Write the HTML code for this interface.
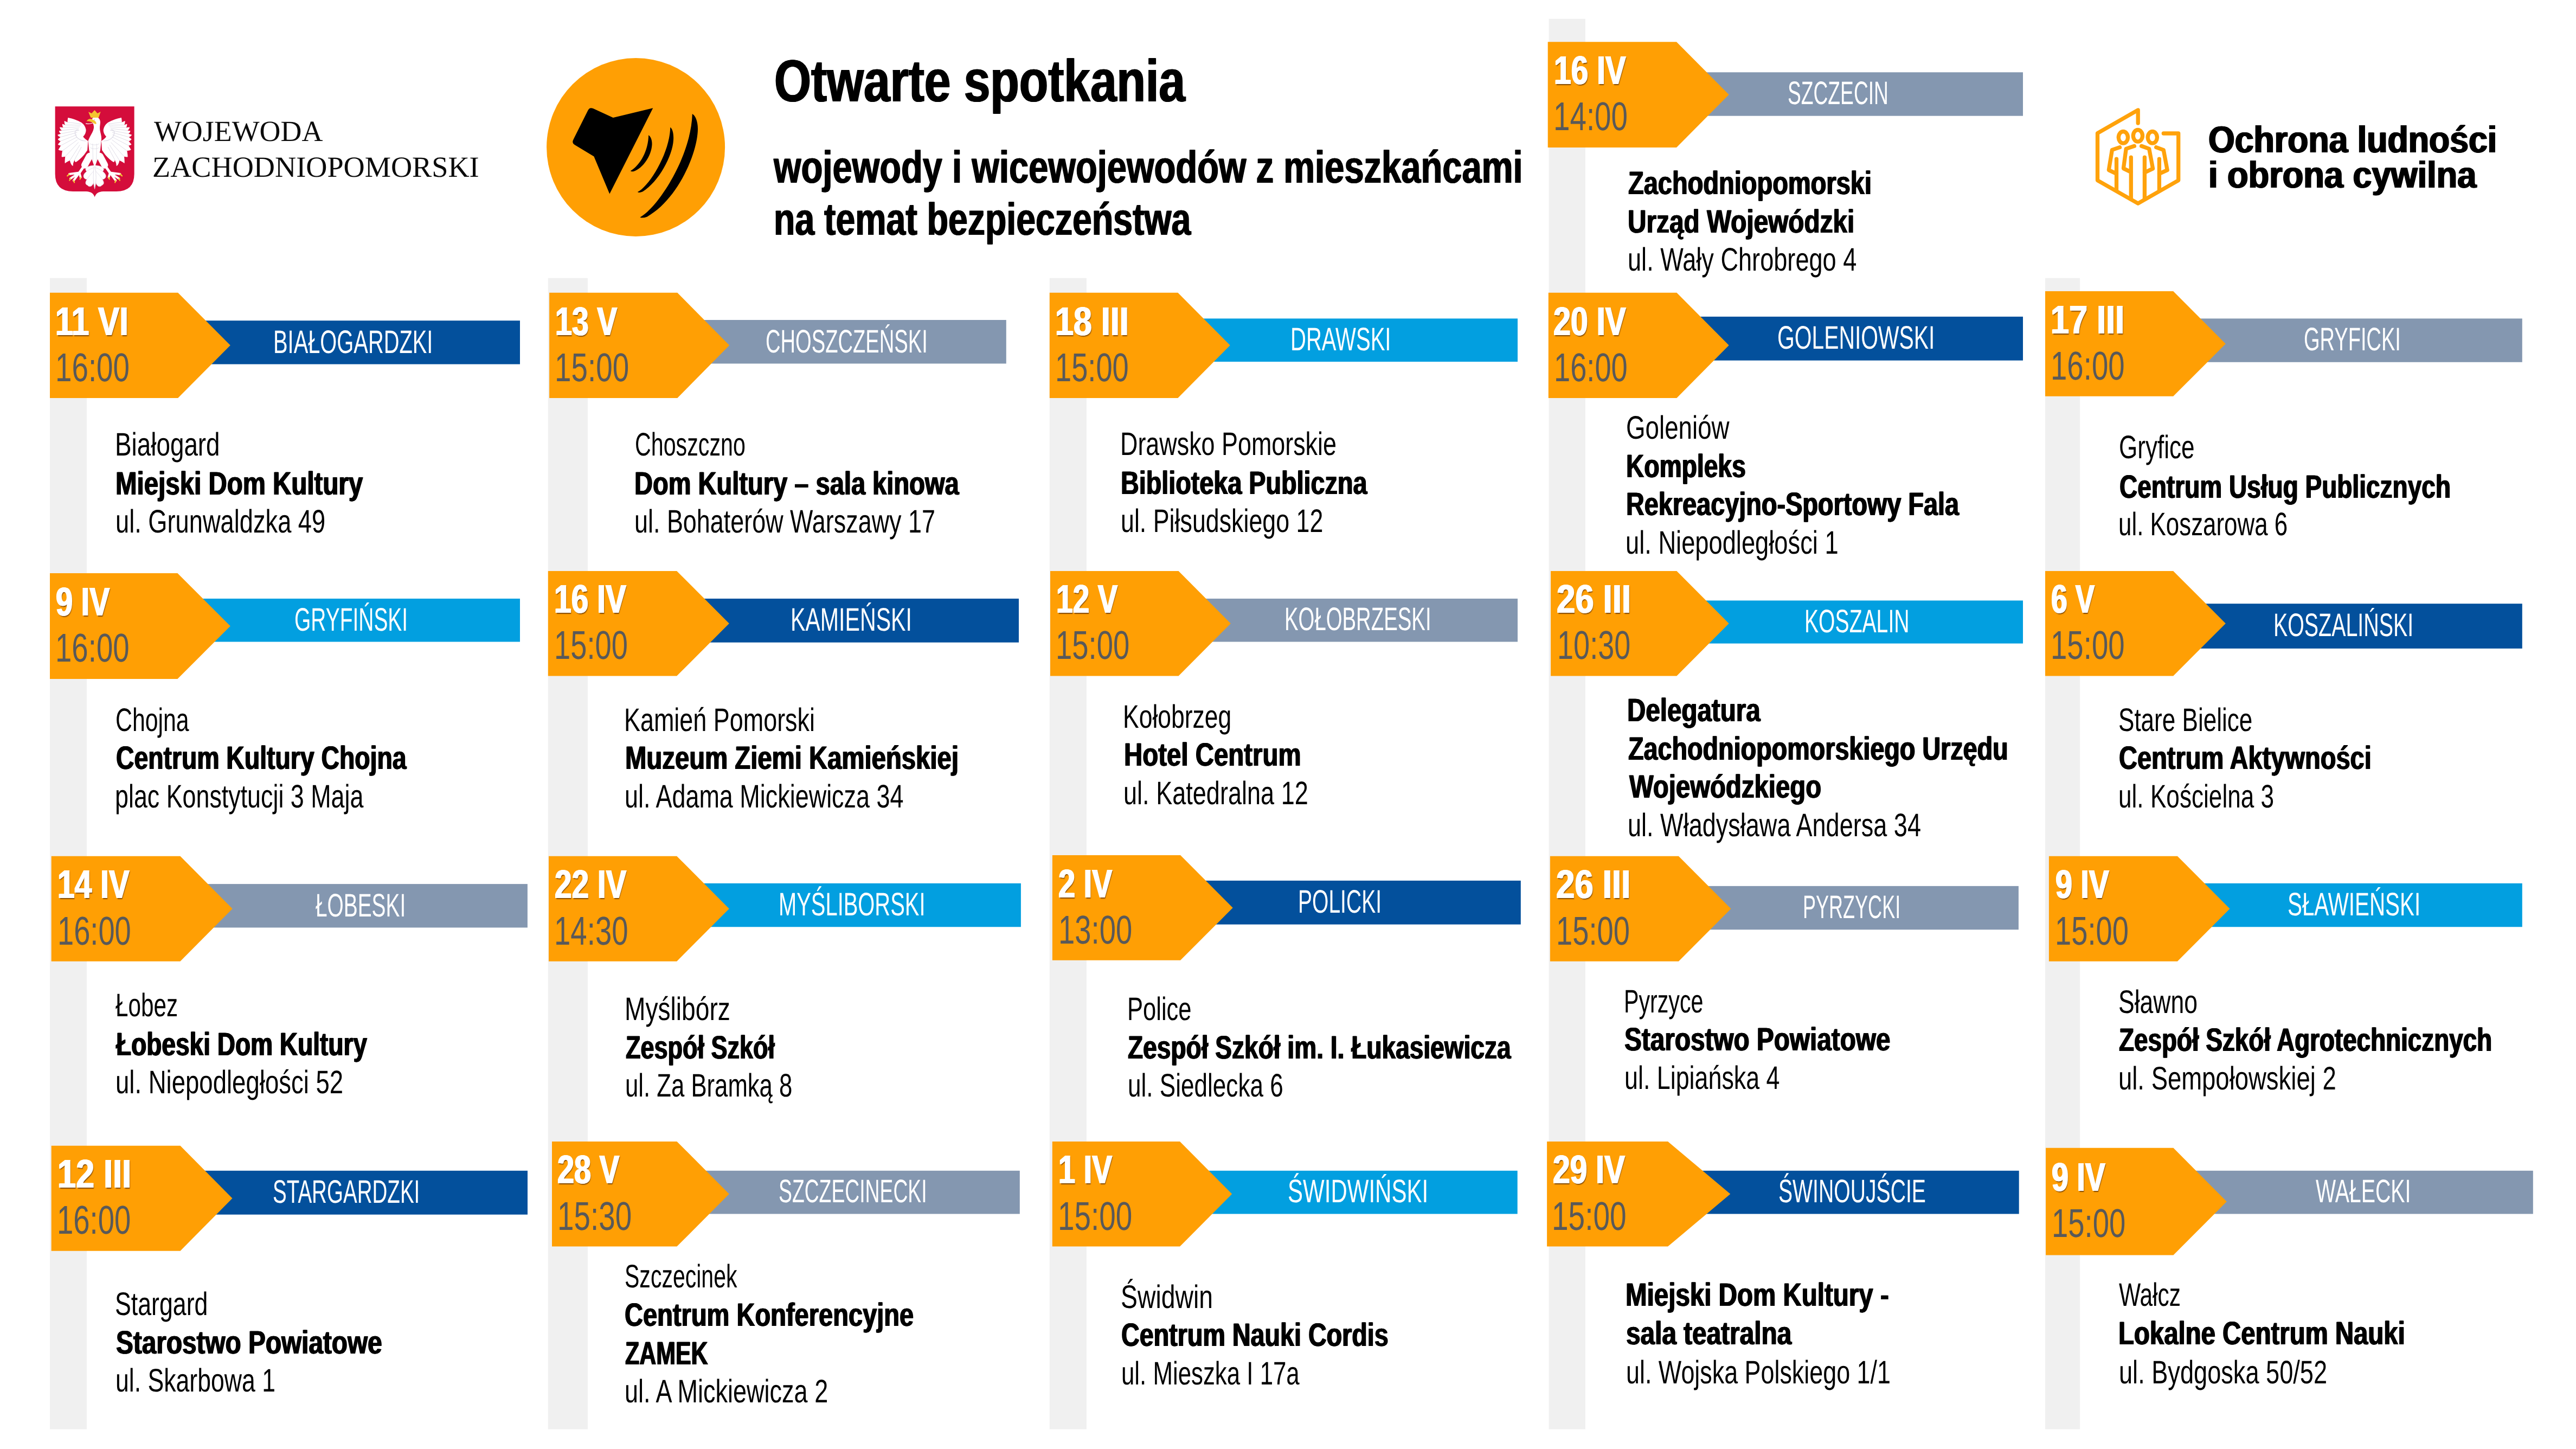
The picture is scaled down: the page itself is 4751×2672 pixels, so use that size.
<!DOCTYPE html>
<html lang="pl"><head><meta charset="utf-8"><title>Otwarte spotkania</title>
<style>
html,body{margin:0;padding:0;background:#fff}
#pg{position:relative;width:4751px;height:2672px;overflow:hidden;background:#fff}
#pg svg{position:absolute;left:0;top:0}
#tx{position:absolute;left:0;top:0;width:4751px;height:2672px;will-change:transform}
.t{position:absolute;white-space:nowrap;transform-origin:0 0;margin:0;padding:0;text-rendering:geometricPrecision}
.b{font-family:"Liberation Sans",sans-serif;font-weight:400;font-size:60px;line-height:60px;color:#000}
.bb{font-family:"Liberation Sans",sans-serif;font-weight:700;font-size:60px;line-height:60px;color:#000}
.lb{font-family:"Liberation Sans",sans-serif;font-weight:400;font-size:60px;line-height:60px;color:#fff}
.dt{font-family:"Liberation Sans",sans-serif;font-weight:700;font-size:74px;line-height:74px;color:#fff}
.tm{font-family:"Liberation Sans",sans-serif;font-weight:400;font-size:74px;line-height:74px;color:#595959}
.h1{font-family:"Liberation Sans",sans-serif;font-weight:700;font-size:110px;line-height:110px;color:#000}
.h2{font-family:"Liberation Sans",sans-serif;font-weight:700;font-size:84px;line-height:84px;color:#000}
.sf{font-family:"Liberation Serif",serif;font-weight:400;font-size:54px;line-height:54px;color:#0b0b0b}
.oc{font-family:"Liberation Sans",sans-serif;font-weight:700;font-size:69px;line-height:69px;color:#000}
</style></head>
<body><div id="pg">
<svg width="4751" height="2672" viewBox="0 0 4751 2672">
<rect x="92" y="512.8" width="68.0" height="2122.8" fill="#f0f0f0"/>
<rect x="1010.8" y="512.8" width="73.1" height="2122.8" fill="#f0f0f0"/>
<rect x="1935.8" y="512.8" width="68.1" height="2122.8" fill="#f0f0f0"/>
<rect x="2856.6" y="34.7" width="67.3" height="2600.9" fill="#f0f0f0"/>
<rect x="3772" y="512.8" width="64.1" height="2122.8" fill="#f0f0f0"/>
<rect x="3092" y="133.3" width="639.0" height="80.4" fill="#8497b0"/>
<polygon points="2854.7,77.2 3092,77.2 3188.7,174.6 3092,272 2854.7,272" fill="#ff9f04"/>
<rect x="328.2" y="591.2" width="630.8" height="80.4" fill="#03509c"/>
<polygon points="92,539.8 328.2,539.8 424.8,636.8 328.2,733.9 92,733.9" fill="#ff9f04"/>
<rect x="1249.3" y="590" width="606.5" height="80.5" fill="#8497b0"/>
<polygon points="1013.1,539.8 1249.3,539.8 1345.2,636.8 1249.3,733.9 1013.1,733.9" fill="#ff9f04"/>
<rect x="2172.4" y="587.4" width="626.6" height="79.6" fill="#029fe0"/>
<polygon points="1935.8,539.8 2172.4,539.8 2268.7,636.8 2172.4,733.9 1935.8,733.9" fill="#ff9f04"/>
<rect x="3092.4" y="583.9" width="638.6" height="80.8" fill="#03509c"/>
<polygon points="2855.8,539.8 3092.4,539.8 3188.7,636.8 3092.4,733.9 2855.8,733.9" fill="#ff9f04"/>
<rect x="4008.2" y="587.4" width="643.6" height="80.4" fill="#8497b0"/>
<polygon points="3772,537.1 4008.2,537.1 4104.8,634.0 4008.2,730.8 3772,730.8" fill="#ff9f04"/>
<rect x="327.4" y="1103.9" width="631.6" height="79.6" fill="#029fe0"/>
<polygon points="92,1057.1 327.4,1057.1 424.8,1154.5 327.4,1251.9 92,1251.9" fill="#ff9f04"/>
<rect x="1248.2" y="1103.9" width="630.8" height="80.8" fill="#03509c"/>
<polygon points="1010.8,1052.9 1248.2,1052.9 1344.8,1149.7 1248.2,1246.5 1010.8,1246.5" fill="#ff9f04"/>
<rect x="2173.6" y="1103.9" width="625.4" height="79.6" fill="#8497b0"/>
<polygon points="1937,1052.9 2173.6,1052.9 2269.8,1149.7 2173.6,1246.5 1937,1246.5" fill="#ff9f04"/>
<rect x="3092.4" y="1107.4" width="638.6" height="79.2" fill="#029fe0"/>
<polygon points="2860.1,1052.9 3092.4,1052.9 3188.7,1149.7 3092.4,1246.5 2860.1,1246.5" fill="#ff9f04"/>
<rect x="4008.2" y="1113.2" width="643.6" height="82.7" fill="#03509c"/>
<polygon points="3772,1052.9 4008.2,1052.9 4104.8,1149.7 4008.2,1246.5 3772,1246.5" fill="#ff9f04"/>
<rect x="332.4" y="1630.1" width="640.5" height="80.4" fill="#8497b0"/>
<polygon points="94.7,1578.7 332.4,1578.7 428.7,1675.7 332.4,1772.7 94.7,1772.7" fill="#ff9f04"/>
<rect x="1248.2" y="1628.9" width="634.7" height="80.4" fill="#029fe0"/>
<polygon points="1012,1578.7 1248.2,1578.7 1344.8,1675.7 1248.2,1772.7 1012,1772.7" fill="#ff9f04"/>
<rect x="2177.1" y="1623.9" width="627.7" height="80.8" fill="#03509c"/>
<polygon points="1940.9,1577.1 2177.1,1577.1 2273.7,1673.9 2177.1,1770.8 1940.9,1770.8" fill="#ff9f04"/>
<rect x="3095.9" y="1633.9" width="627.0" height="80.4" fill="#8497b0"/>
<polygon points="2858.9,1578.7 3095.9,1578.7 3192.5,1675.7 3095.9,1772.7 2858.9,1772.7" fill="#ff9f04"/>
<rect x="4015.9" y="1628.9" width="635.9" height="80.4" fill="#029fe0"/>
<polygon points="3778.9,1578.7 4015.9,1578.7 4112.5,1675.7 4015.9,1772.7 3778.9,1772.7" fill="#ff9f04"/>
<rect x="332.5" y="2158.8" width="640.5" height="80.9" fill="#03509c"/>
<polygon points="94.7,2112.7 332.5,2112.7 428.5,2209.7 332.5,2306.7 94.7,2306.7" fill="#ff9f04"/>
<rect x="1248.4" y="2158.8" width="632.4" height="79.7" fill="#8497b0"/>
<polygon points="1018,2104.9 1248.4,2104.9 1344.8,2201.8 1248.4,2298.6 1018,2298.6" fill="#ff9f04"/>
<rect x="2176.1" y="2158.8" width="622.6" height="79.7" fill="#029fe0"/>
<polygon points="1940.8,2104.9 2176.1,2104.9 2272.2,2201.8 2176.1,2298.6 1940.8,2298.6" fill="#ff9f04"/>
<rect x="3076.1" y="2158.8" width="647.6" height="79.7" fill="#03509c"/>
<polygon points="2853.1,2104.9 3076.1,2104.9 3191.3,2201.8 3076.1,2298.6 2853.1,2298.6" fill="#ff9f04"/>
<rect x="4008.4" y="2158.8" width="663.4" height="79.7" fill="#8497b0"/>
<polygon points="3773.1,2116.8 4008.4,2116.8 4106.8,2215.7 4008.4,2314.5 3773.1,2314.5" fill="#ff9f04"/>
<circle cx="1172.6" cy="271.5" r="164.5" fill="#ff9f04"/>
<path d="M1084.4,203.5 Q1087.5,197.2 1093.9,200.1 L1130.8,216.9 L1204.3,199.3 L1124.3,357.5 L1095.4,288.5 L1060.2,267.2 Q1054.2,263.6 1057.4,257.4 Z" fill="#000"/>
<path d="M1276.8,210.1 C1282.6,213.0 1287.4,224.6 1287.0,239.1 C1286.2,281.2 1251.4,366.7 1193.5,399.7 Q1184.8,402.9 1180.4,400.7 C1212.3,384.1 1274.6,289.9 1276.8,210.1 Z" fill="#000"/>
<path d="M1236.2,234.8 C1240.1,237.0 1242.8,246.4 1242.0,258.0 C1240.6,287.0 1215.2,334.8 1185.5,353.3 Q1179.0,356.2 1175.8,354.1 C1197.8,343.5 1235.5,281.2 1236.2,234.8 Z" fill="#000"/>
<path d="M1196.1,249.3 C1199.6,251.0 1202.9,258.0 1202.5,266.7 C1201.4,287.0 1186.2,310.1 1168.8,315.9 Q1164.5,317.1 1162.8,315.2 C1177.5,307.2 1195.7,281.2 1196.1,249.3 Z" fill="#000"/>
<g fill="none" stroke="#ffa20b" stroke-width="7.3" stroke-linecap="round" stroke-linejoin="round"><path d="M3943.2,227.1 V202.8 L3868.5,245.6 V332.6 L3943.2,375.1 L4017.7,332.6 V246 H3990.3"/><ellipse cx="3915.9" cy="253.3" rx="8.6" ry="10.8"/><ellipse cx="3942.9" cy="250.3" rx="8.6" ry="10.8"/><ellipse cx="3969.8" cy="253.3" rx="8.6" ry="10.8"/><path d="M3936.4,269.3 L3921.2,274.4 L3916.4,310.6 L3930.3,317.4 M3930.3,290.1 V366.8 M3955.4,290.1 V366.8 M3949.6,269.3 L3963.7,274.4 L3970.6,310.9 L3955.4,318.2"/><path d="M3909.5,271.6 L3895.4,276.4 L3889.3,313.6 L3903.5,320.4 M3903.5,293.1 V350.8"/><path d="M3976.7,271.6 L3990.3,276.7 L3997.2,313.6 L3982.4,320.4 M3982.4,293.1 V350.8"/></g>
<g transform="translate(98,192) scale(0.12145)">
<path d="M30,35 H1232 V1060 Q1232,1325 960,1325 H760 Q650,1330 631,1415 Q612,1330 502,1325 H302 Q30,1325 30,1060 Z" fill="#d40d3b"/>
<g>
<path d="M225,205 Q217,247 219,276 Q186,259 170,255 Q167,292 183,316 Q154,303 140,300 Q137,334 154,356 Q119,351 100,350 Q102,381 133,400 Q103,404 90,405 Q91,433 119,449 Q86,462 68,465 Q73,489 112,501 Q84,524 72,530 Q76,552 113,562 Q85,600 72,610 Q77,626 116,629 Q89,678 78,690 Q88,706 140,709 Q127,782 130,800 Q137,805 183,797 Q174,879 180,900 Q193,884 254,856 Q269,923 300,940 Q300,900 324,848 Q326,874 345,880 Q400,850 470,770 L520,700 L530,560 Q470,520 455,495 Q505,440 498,385 Q485,320 430,280 Q340,225 225,205 Z" fill="#ffffff"/>
<path d="M219,276 L430,300 M183,316 L420,320 M154,356 L405,345 M133,400 L390,370 M119,449 L375,400 M112,501 L365,430 M113,562 L360,465 M116,629 L362,500 M140,709 L370,540 M183,797 L385,580 M254,856 L405,620 M324,848 L430,650 " fill="none" stroke="#d9d6e2" stroke-width="7"/>
<path d="M500,560 C420,560 350,520 335,450 C325,400 360,380 395,400" fill="none" stroke="#d9d6e2" stroke-width="9"/>
</g>
<g transform="translate(1262,0) scale(-1,1)">
<path d="M225,205 Q217,247 219,276 Q186,259 170,255 Q167,292 183,316 Q154,303 140,300 Q137,334 154,356 Q119,351 100,350 Q102,381 133,400 Q103,404 90,405 Q91,433 119,449 Q86,462 68,465 Q73,489 112,501 Q84,524 72,530 Q76,552 113,562 Q85,600 72,610 Q77,626 116,629 Q89,678 78,690 Q88,706 140,709 Q127,782 130,800 Q137,805 183,797 Q174,879 180,900 Q193,884 254,856 Q269,923 300,940 Q300,900 324,848 Q326,874 345,880 Q400,850 470,770 L520,700 L530,560 Q470,520 455,495 Q505,440 498,385 Q485,320 430,280 Q340,225 225,205 Z" fill="#ffffff"/>
<path d="M219,276 L430,300 M183,316 L420,320 M154,356 L405,345 M133,400 L390,370 M119,449 L375,400 M112,501 L365,430 M113,562 L360,465 M116,629 L362,500 M140,709 L370,540 M183,797 L385,580 M254,856 L405,620 M324,848 L430,650 " fill="none" stroke="#d9d6e2" stroke-width="7"/>
<path d="M500,560 C420,560 350,520 335,450 C325,400 360,380 395,400" fill="none" stroke="#d9d6e2" stroke-width="9"/>
</g>
<g fill="#ffffff" stroke="#d9d6e2" stroke-width="6" stroke-linejoin="round">
<path d="M631,930 C702,930 792,960 762,1010 C722,1060 652,1020 631,1020 Z"/>
<path d="M631,960 C722,990 832,1060 792,1120 C752,1170 682,1130 631,1050 Z"/>
<path d="M631,1000 C702,1080 822,1200 742,1230 C702,1280 632,1240 631,1090 Z"/>
<path d="M631,930 C560,930 470,960 500,1010 C540,1060 610,1020 631,1020 Z"/>
<path d="M631,960 C540,990 430,1060 470,1120 C510,1170 580,1130 631,1050 Z"/>
<path d="M631,1000 C560,1080 440,1200 520,1230 C560,1280 630,1240 631,1090 Z"/>
<path d="M631,900 Q589,1134 631,1290 Q673,1134 631,900 Z"/>
</g>
<g fill="none" stroke="#ffffff" stroke-linecap="round" stroke-linejoin="round">
<g><path d="M552,790 L480,925" stroke-width="104"/><path d="M462,950 L398,1042" stroke-width="40"/><path d="M398,1042 L245,1062 M398,1042 L262,1132 M398,1042 L312,1160 M398,1042 L418,1112" stroke-width="32"/><path d="M245,1062 L216,1090 M262,1132 L250,1158 M312,1160 L322,1190 M418,1112 L408,1140" stroke="#f4cf2a" stroke-width="18"/></g>
<g transform="translate(1262,0) scale(-1,1)"><path d="M552,790 L480,925" stroke-width="104"/><path d="M462,950 L398,1042" stroke-width="40"/><path d="M398,1042 L245,1062 M398,1042 L262,1132 M398,1042 L312,1160 M398,1042 L418,1112" stroke-width="32"/><path d="M245,1062 L216,1090 M262,1132 L250,1158 M312,1160 L322,1190 M418,1112 L408,1140" stroke="#f4cf2a" stroke-width="18"/></g>
</g>
<path d="M640,195 C690,195 722,230 715,290 C712,330 705,350 712,400 C720,450 742,500 730,560 L716,700 L682,820 L631,960 L580,820 L546,700 L532,560 C545,510 590,450 608,400 C620,360 622,340 610,305 L585,245 C590,215 610,195 640,195 Z" fill="#ffffff"/>
<path d="M600,600 L606,880 M662,600 L656,880 M560,600 C590,625 672,625 702,600 M565,660 C595,685 667,685 697,660" stroke="#d9d6e2" stroke-width="6" fill="none"/>
<path d="M592,230 C560,216 522,226 508,262 C540,255 585,270 625,294 C640,302 654,306 657,295 C654,262 622,243 592,230 Z" fill="#f4c430"/>
<path d="M498,296 C530,303 565,298 604,286" stroke="#fff" stroke-width="10" fill="none" stroke-linecap="round"/>
<circle cx="628" cy="238" r="7" fill="#b9b4c6"/>
<path d="M572,205 L535,118 L585,140 L630,90 L672,140 L722,115 L690,205 Z" fill="#f4c430"/>
</g>
</svg>
<div id="tx">
<div class="t dt" style="left:2866.3px;top:93.3px;transform:scaleX(0.7690);text-shadow:1.17px 0 0 #fff,-1.17px 0 0 #fff,1.6px 1.6px 1.6px rgba(90,45,0,.75);">16 IV</div>
<div class="t tm" style="left:2864.8px;top:178.3px;transform:scaleX(0.7399);">14:00</div>
<div class="t lb" style="left:3296.6px;top:142.0px;transform:scaleX(0.6197);">SZCZECIN</div>
<div class="t bb" style="left:3003.2px;top:308.2px;transform:scaleX(0.7830);text-shadow:1.02px 0 0 #000,-1.02px 0 0 #000;">Zachodniopomorski</div>
<div class="t bb" style="left:3001.7px;top:379.0px;transform:scaleX(0.7959);text-shadow:1.01px 0 0 #000,-1.01px 0 0 #000;">Urząd Wojewódzki</div>
<div class="t b" style="left:3001.5px;top:449.3px;transform:scaleX(0.7524);">ul. Wały Chrobrego 4</div>
<div class="t dt" style="left:102.2px;top:555.9px;transform:scaleX(0.7989);text-shadow:1.13px 0 0 #fff,-1.13px 0 0 #fff,1.6px 1.6px 1.6px rgba(90,45,0,.75);">11 VI</div>
<div class="t tm" style="left:102.1px;top:641.0px;transform:scaleX(0.7399);">16:00</div>
<div class="t lb" style="left:504.1px;top:600.8px;transform:scaleX(0.6640);">BIAŁOGARDZKI</div>
<div class="t b" style="left:211.7px;top:790.2px;transform:scaleX(0.7637);">Białogard</div>
<div class="t bb" style="left:213.1px;top:861.7px;transform:scaleX(0.7910);text-shadow:1.01px 0 0 #000,-1.01px 0 0 #000;">Miejski Dom Kultury</div>
<div class="t b" style="left:212.6px;top:932.0px;transform:scaleX(0.7538);">ul. Grunwaldzka 49</div>
<div class="t dt" style="left:1023.7px;top:555.9px;transform:scaleX(0.7507);text-shadow:1.20px 0 0 #fff,-1.20px 0 0 #fff,1.6px 1.6px 1.6px rgba(90,45,0,.75);">13 V</div>
<div class="t tm" style="left:1022.8px;top:641.0px;transform:scaleX(0.7404);">15:00</div>
<div class="t lb" style="left:1411.9px;top:600.0px;transform:scaleX(0.6358);">CHOSZCZEŃSKI</div>
<div class="t b" style="left:1170.5px;top:790.2px;transform:scaleX(0.6867);">Choszczno</div>
<div class="t bb" style="left:1170.3px;top:861.7px;transform:scaleX(0.7840);text-shadow:1.02px 0 0 #000,-1.02px 0 0 #000;">Dom Kultury – sala kinowa</div>
<div class="t b" style="left:1169.7px;top:932.0px;transform:scaleX(0.7485);">ul. Bohaterów Warszawy 17</div>
<div class="t dt" style="left:1946.1px;top:555.9px;transform:scaleX(0.8248);text-shadow:1.09px 0 0 #fff,-1.09px 0 0 #fff,1.6px 1.6px 1.6px rgba(90,45,0,.75);">18 III</div>
<div class="t tm" style="left:1946.1px;top:641.0px;transform:scaleX(0.7331);">15:00</div>
<div class="t lb" style="left:2379.6px;top:596.1px;transform:scaleX(0.6677);">DRAWSKI</div>
<div class="t b" style="left:2065.7px;top:789.4px;transform:scaleX(0.7479);">Drawsko Pomorskie</div>
<div class="t bb" style="left:2067.1px;top:860.5px;transform:scaleX(0.7789);text-shadow:1.03px 0 0 #000,-1.03px 0 0 #000;">Biblioteka Publiczna</div>
<div class="t b" style="left:2066.5px;top:931.2px;transform:scaleX(0.7463);">ul. Piłsudskiego 12</div>
<div class="t dt" style="left:2865.2px;top:555.9px;transform:scaleX(0.7754);text-shadow:1.16px 0 0 #fff,-1.16px 0 0 #fff,1.6px 1.6px 1.6px rgba(90,45,0,.75);">20 IV</div>
<div class="t tm" style="left:2866.1px;top:641.0px;transform:scaleX(0.7331);">16:00</div>
<div class="t lb" style="left:3278.4px;top:593.0px;transform:scaleX(0.6803);">GOLENIOWSKI</div>
<div class="t b" style="left:2998.7px;top:759.2px;transform:scaleX(0.7619);">Goleniów</div>
<div class="t bb" style="left:2998.7px;top:830.0px;transform:scaleX(0.7699);text-shadow:1.04px 0 0 #000,-1.04px 0 0 #000;">Kompleks</div>
<div class="t bb" style="left:2998.7px;top:900.3px;transform:scaleX(0.7804);text-shadow:1.03px 0 0 #000,-1.03px 0 0 #000;">Rekreacyjno-Sportowy Fala</div>
<div class="t b" style="left:2998.1px;top:970.7px;transform:scaleX(0.7546);">ul. Niepodległości 1</div>
<div class="t dt" style="left:3782.1px;top:552.8px;transform:scaleX(0.8274);text-shadow:1.09px 0 0 #fff,-1.09px 0 0 #fff,1.6px 1.6px 1.6px rgba(90,45,0,.75);">17 III</div>
<div class="t tm" style="left:3782.1px;top:637.8px;transform:scaleX(0.7376);">16:00</div>
<div class="t lb" style="left:4249.2px;top:596.1px;transform:scaleX(0.6339);">GRYFICKI</div>
<div class="t b" style="left:3908.0px;top:795.2px;transform:scaleX(0.7345);">Gryfice</div>
<div class="t bb" style="left:3909.1px;top:867.5px;transform:scaleX(0.7668);text-shadow:1.04px 0 0 #000,-1.04px 0 0 #000;">Centrum Usług Publicznych</div>
<div class="t b" style="left:3907.4px;top:937.0px;transform:scaleX(0.7313);">ul. Koszarowa 6</div>
<div class="t dt" style="left:103.0px;top:1072.8px;transform:scaleX(0.7561);text-shadow:1.19px 0 0 #fff,-1.19px 0 0 #fff,1.6px 1.6px 1.6px rgba(90,45,0,.75);">9 IV</div>
<div class="t tm" style="left:102.1px;top:1157.8px;transform:scaleX(0.7376);">16:00</div>
<div class="t lb" style="left:542.9px;top:1113.0px;transform:scaleX(0.6489);">GRYFIŃSKI</div>
<div class="t b" style="left:212.6px;top:1297.8px;transform:scaleX(0.7130);">Chojna</div>
<div class="t bb" style="left:213.7px;top:1368.1px;transform:scaleX(0.7724);text-shadow:1.04px 0 0 #000,-1.04px 0 0 #000;">Centrum Kultury Chojna</div>
<div class="t b" style="left:211.9px;top:1438.5px;transform:scaleX(0.7469);">plac Konstytucji 3 Maja</div>
<div class="t dt" style="left:1022.4px;top:1068.2px;transform:scaleX(0.7696);text-shadow:1.17px 0 0 #fff,-1.17px 0 0 #fff,1.6px 1.6px 1.6px rgba(90,45,0,.75);">16 IV</div>
<div class="t tm" style="left:1022.2px;top:1153.2px;transform:scaleX(0.7336);">15:00</div>
<div class="t lb" style="left:1458.4px;top:1113.0px;transform:scaleX(0.6854);">KAMIEŃSKI</div>
<div class="t b" style="left:1151.2px;top:1297.8px;transform:scaleX(0.7487);">Kamień Pomorski</div>
<div class="t bb" style="left:1152.5px;top:1368.1px;transform:scaleX(0.7882);text-shadow:1.01px 0 0 #000,-1.01px 0 0 #000;">Muzeum Ziemi Kamieńskiej</div>
<div class="t b" style="left:1152.0px;top:1438.5px;transform:scaleX(0.7490);">ul. Adama Mickiewicza 34</div>
<div class="t dt" style="left:1948.3px;top:1068.2px;transform:scaleX(0.7453);text-shadow:1.21px 0 0 #fff,-1.21px 0 0 #fff,1.6px 1.6px 1.6px rgba(90,45,0,.75);">12 V</div>
<div class="t tm" style="left:1946.8px;top:1153.2px;transform:scaleX(0.7359);">15:00</div>
<div class="t lb" style="left:2369.0px;top:1112.2px;transform:scaleX(0.6390);">KOŁOBRZESKI</div>
<div class="t b" style="left:2071.3px;top:1291.6px;transform:scaleX(0.7410);">Kołobrzeg</div>
<div class="t bb" style="left:2072.5px;top:1362.3px;transform:scaleX(0.7902);text-shadow:1.01px 0 0 #000,-1.01px 0 0 #000;">Hotel Centrum</div>
<div class="t b" style="left:2072.0px;top:1432.7px;transform:scaleX(0.7512);">ul. Katedralna 12</div>
<div class="t dt" style="left:2870.5px;top:1068.2px;transform:scaleX(0.8329);text-shadow:1.08px 0 0 #fff,-1.08px 0 0 #fff,1.6px 1.6px 1.6px rgba(90,45,0,.75);">26 III</div>
<div class="t tm" style="left:2871.5px;top:1153.2px;transform:scaleX(0.7308);">10:30</div>
<div class="t lb" style="left:3327.9px;top:1116.1px;transform:scaleX(0.6521);">KOSZALIN</div>
<div class="t bb" style="left:3001.4px;top:1280.4px;transform:scaleX(0.7922);text-shadow:1.01px 0 0 #000,-1.01px 0 0 #000;">Delegatura</div>
<div class="t bb" style="left:3003.2px;top:1350.7px;transform:scaleX(0.7785);text-shadow:1.03px 0 0 #000,-1.03px 0 0 #000;">Zachodniopomorskiego Urzędu</div>
<div class="t bb" style="left:3004.6px;top:1421.1px;transform:scaleX(0.7888);text-shadow:1.01px 0 0 #000,-1.01px 0 0 #000;">Wojewódzkiego</div>
<div class="t b" style="left:3001.6px;top:1491.8px;transform:scaleX(0.7509);">ul. Władysława Andersa 34</div>
<div class="t dt" style="left:3782.9px;top:1068.2px;transform:scaleX(0.7223);text-shadow:1.25px 0 0 #fff,-1.25px 0 0 #fff,1.6px 1.6px 1.6px rgba(90,45,0,.75);">6 V</div>
<div class="t tm" style="left:3782.1px;top:1153.2px;transform:scaleX(0.7376);">15:00</div>
<div class="t lb" style="left:4193.4px;top:1122.7px;transform:scaleX(0.6559);">KOSZALIŃSKI</div>
<div class="t b" style="left:3907.4px;top:1297.8px;transform:scaleX(0.7341);">Stare Bielice</div>
<div class="t bb" style="left:3908.3px;top:1368.1px;transform:scaleX(0.7834);text-shadow:1.02px 0 0 #000,-1.02px 0 0 #000;">Centrum Aktywności</div>
<div class="t b" style="left:3907.3px;top:1438.5px;transform:scaleX(0.7357);">ul. Kościelna 3</div>
<div class="t dt" style="left:106.3px;top:1594.0px;transform:scaleX(0.7690);text-shadow:1.17px 0 0 #fff,-1.17px 0 0 #fff,1.6px 1.6px 1.6px rgba(90,45,0,.75);">14 IV</div>
<div class="t tm" style="left:106.1px;top:1679.8px;transform:scaleX(0.7331);">16:00</div>
<div class="t lb" style="left:582.0px;top:1639.6px;transform:scaleX(0.6471);">ŁOBESKI</div>
<div class="t b" style="left:213.2px;top:1824.4px;transform:scaleX(0.7042);">Łobez</div>
<div class="t bb" style="left:214.4px;top:1895.9px;transform:scaleX(0.7674);text-shadow:1.04px 0 0 #000,-1.04px 0 0 #000;">Łobeski Dom Kultury</div>
<div class="t b" style="left:212.5px;top:1965.5px;transform:scaleX(0.7588);">ul. Niepodległości 52</div>
<div class="t dt" style="left:1022.9px;top:1594.0px;transform:scaleX(0.7666);text-shadow:1.17px 0 0 #fff,-1.17px 0 0 #fff,1.6px 1.6px 1.6px rgba(90,45,0,.75);">22 IV</div>
<div class="t tm" style="left:1022.1px;top:1679.8px;transform:scaleX(0.7376);">14:30</div>
<div class="t lb" style="left:1435.7px;top:1637.7px;transform:scaleX(0.6649);">MYŚLIBORSKI</div>
<div class="t b" style="left:1152.2px;top:1831.3px;transform:scaleX(0.7692);">Myślibórz</div>
<div class="t bb" style="left:1154.4px;top:1902.4px;transform:scaleX(0.7498);text-shadow:1.07px 0 0 #000,-1.07px 0 0 #000;">Zespół Szkół</div>
<div class="t b" style="left:1153.2px;top:1972.4px;transform:scaleX(0.7281);">ul. Za Bramką 8</div>
<div class="t dt" style="left:1951.9px;top:1592.8px;transform:scaleX(0.7561);text-shadow:1.19px 0 0 #fff,-1.19px 0 0 #fff,1.6px 1.6px 1.6px rgba(90,45,0,.75);">2 IV</div>
<div class="t tm" style="left:1951.5px;top:1678.2px;transform:scaleX(0.7353);">13:00</div>
<div class="t lb" style="left:2394.0px;top:1633.0px;transform:scaleX(0.6505);">POLICKI</div>
<div class="t b" style="left:2079.4px;top:1831.3px;transform:scaleX(0.7251);">Police</div>
<div class="t bb" style="left:2080.4px;top:1902.4px;transform:scaleX(0.7679);text-shadow:1.04px 0 0 #000,-1.04px 0 0 #000;">Zespół Szkół im. I. Łukasiewicza</div>
<div class="t b" style="left:2080.1px;top:1972.4px;transform:scaleX(0.7347);">ul. Siedlecka 6</div>
<div class="t dt" style="left:2869.7px;top:1594.0px;transform:scaleX(0.8336);text-shadow:1.08px 0 0 #fff,-1.08px 0 0 #fff,1.6px 1.6px 1.6px rgba(90,45,0,.75);">26 III</div>
<div class="t tm" style="left:2869.9px;top:1679.8px;transform:scaleX(0.7336);">15:00</div>
<div class="t lb" style="left:3325.0px;top:1642.7px;transform:scaleX(0.6005);">PYRZYCKI</div>
<div class="t b" style="left:2994.6px;top:1816.6px;transform:scaleX(0.6862);">Pyrzyce</div>
<div class="t bb" style="left:2996.2px;top:1887.4px;transform:scaleX(0.7953);text-shadow:1.01px 0 0 #000,-1.01px 0 0 #000;">Starostwo Powiatowe</div>
<div class="t b" style="left:2995.8px;top:1957.7px;transform:scaleX(0.7470);">ul. Lipiańska 4</div>
<div class="t dt" style="left:3790.7px;top:1594.0px;transform:scaleX(0.7506);text-shadow:1.20px 0 0 #fff,-1.20px 0 0 #fff,1.6px 1.6px 1.6px rgba(90,45,0,.75);">9 IV</div>
<div class="t tm" style="left:3789.9px;top:1679.8px;transform:scaleX(0.7336);">15:00</div>
<div class="t lb" style="left:4219.2px;top:1637.7px;transform:scaleX(0.6725);">SŁAWIEŃSKI</div>
<div class="t b" style="left:3907.4px;top:1817.8px;transform:scaleX(0.7413);">Sławno</div>
<div class="t bb" style="left:3907.7px;top:1888.1px;transform:scaleX(0.7635);text-shadow:1.05px 0 0 #000,-1.05px 0 0 #000;">Zespół Szkół Agrotechnicznych</div>
<div class="t b" style="left:3907.2px;top:1958.5px;transform:scaleX(0.7575);">ul. Sempołowskiej 2</div>
<div class="t dt" style="left:105.6px;top:2128.3px;transform:scaleX(0.8274);text-shadow:1.09px 0 0 #fff,-1.09px 0 0 #fff,1.6px 1.6px 1.6px rgba(90,45,0,.75);">12 III</div>
<div class="t tm" style="left:105.3px;top:2213.3px;transform:scaleX(0.7359);">16:00</div>
<div class="t lb" style="left:502.8px;top:2168.1px;transform:scaleX(0.6425);">STARGARDZKI</div>
<div class="t b" style="left:212.2px;top:2375.2px;transform:scaleX(0.7448);">Stargard</div>
<div class="t bb" style="left:213.6px;top:2445.9px;transform:scaleX(0.7955);text-shadow:1.01px 0 0 #000,-1.01px 0 0 #000;">Starostwo Powiatowe</div>
<div class="t b" style="left:212.5px;top:2516.2px;transform:scaleX(0.7432);">ul. Skarbowa 1</div>
<div class="t dt" style="left:1028.4px;top:2120.1px;transform:scaleX(0.7529);text-shadow:1.20px 0 0 #fff,-1.20px 0 0 #fff,1.6px 1.6px 1.6px rgba(90,45,0,.75);">28 V</div>
<div class="t tm" style="left:1027.7px;top:2205.9px;transform:scaleX(0.7404);">15:30</div>
<div class="t lb" style="left:1436.4px;top:2166.9px;transform:scaleX(0.6218);">SZCZECINECKI</div>
<div class="t b" style="left:1151.5px;top:2324.1px;transform:scaleX(0.6838);">Szczecinek</div>
<div class="t bb" style="left:1152.3px;top:2394.8px;transform:scaleX(0.7840);text-shadow:1.02px 0 0 #000,-1.02px 0 0 #000;">Centrum Konferencyjne</div>
<div class="t bb" style="left:1152.9px;top:2465.9px;transform:scaleX(0.7158);text-shadow:1.12px 0 0 #000,-1.12px 0 0 #000;">ZAMEK</div>
<div class="t b" style="left:1151.7px;top:2535.8px;transform:scaleX(0.7501);">ul. A Mickiewicza 2</div>
<div class="t dt" style="left:1952.1px;top:2120.1px;transform:scaleX(0.7559);text-shadow:1.19px 0 0 #fff,-1.19px 0 0 #fff,1.6px 1.6px 1.6px rgba(90,45,0,.75);">1 IV</div>
<div class="t tm" style="left:1950.5px;top:2205.9px;transform:scaleX(0.7410);">15:00</div>
<div class="t lb" style="left:2375.4px;top:2166.9px;transform:scaleX(0.7005);">ŚWIDWIŃSKI</div>
<div class="t b" style="left:2067.2px;top:2361.7px;transform:scaleX(0.7725);">Świdwin</div>
<div class="t bb" style="left:2068.2px;top:2432.4px;transform:scaleX(0.7779);text-shadow:1.03px 0 0 #000,-1.03px 0 0 #000;">Centrum Nauki Cordis</div>
<div class="t b" style="left:2067.7px;top:2502.7px;transform:scaleX(0.7302);">ul. Mieszka I 17a</div>
<div class="t dt" style="left:2864.2px;top:2120.1px;transform:scaleX(0.7701);text-shadow:1.17px 0 0 #fff,-1.17px 0 0 #fff,1.6px 1.6px 1.6px rgba(90,45,0,.75);">29 IV</div>
<div class="t tm" style="left:2862.4px;top:2205.9px;transform:scaleX(0.7427);">15:00</div>
<div class="t lb" style="left:3280.4px;top:2166.9px;transform:scaleX(0.6527);">ŚWINOUJŚCIE</div>
<div class="t bb" style="left:2998.3px;top:2358.0px;transform:scaleX(0.7919);text-shadow:1.01px 0 0 #000,-1.01px 0 0 #000;">Miejski Dom Kultury -</div>
<div class="t bb" style="left:2999.0px;top:2429.1px;transform:scaleX(0.7956);text-shadow:1.01px 0 0 #000,-1.01px 0 0 #000;">sala teatralna</div>
<div class="t b" style="left:2998.6px;top:2500.6px;transform:scaleX(0.7477);">ul. Wojska Polskiego 1/1</div>
<div class="t dt" style="left:3784.3px;top:2134.4px;transform:scaleX(0.7529);text-shadow:1.20px 0 0 #fff,-1.20px 0 0 #fff,1.6px 1.6px 1.6px rgba(90,45,0,.75);">9 IV</div>
<div class="t tm" style="left:3783.7px;top:2219.4px;transform:scaleX(0.7359);">15:00</div>
<div class="t lb" style="left:4271.4px;top:2166.8px;transform:scaleX(0.6549);">WAŁECKI</div>
<div class="t b" style="left:3908.3px;top:2358.0px;transform:scaleX(0.7076);">Wałcz</div>
<div class="t bb" style="left:3907.3px;top:2429.1px;transform:scaleX(0.7891);text-shadow:1.01px 0 0 #000,-1.01px 0 0 #000;">Lokalne Centrum Nauki</div>
<div class="t b" style="left:3907.6px;top:2500.6px;transform:scaleX(0.7526);">ul. Bydgoska 50/52</div>
<div class="t h1" style="left:1427.8px;top:95.2px;transform:scaleX(0.7947);text-shadow:1.26px 0 0 #000,-1.26px 0 0 #000;">Otwarte spotkania</div>
<div class="t h2" style="left:1427.1px;top:265.7px;transform:scaleX(0.7748);text-shadow:1.03px 0 0 #000,-1.03px 0 0 #000;">wojewody i wicewojewodów z mieszkańcami</div>
<div class="t h2" style="left:1426.5px;top:361.9px;transform:scaleX(0.7665);text-shadow:1.04px 0 0 #000,-1.04px 0 0 #000;">na temat bezpieczeństwa</div>
<div class="t sf" style="left:283.8px;top:214.8px;transform:scaleX(0.9981);">WOJEWODA</div>
<div class="t sf" style="left:281.3px;top:280.6px;transform:scaleX(1.0044);">ZACHODNIOPOMORSKI</div>
<div class="t oc" style="left:4072.9px;top:222.5px;transform:scaleX(0.9073);text-shadow:1.32px 0 0 #000,-1.32px 0 0 #000;">Ochrona ludności</div>
<div class="t oc" style="left:4072.8px;top:287.9px;transform:scaleX(0.9143);text-shadow:1.31px 0 0 #000,-1.31px 0 0 #000;">i obrona cywilna</div>
</div>
</div></body></html>
